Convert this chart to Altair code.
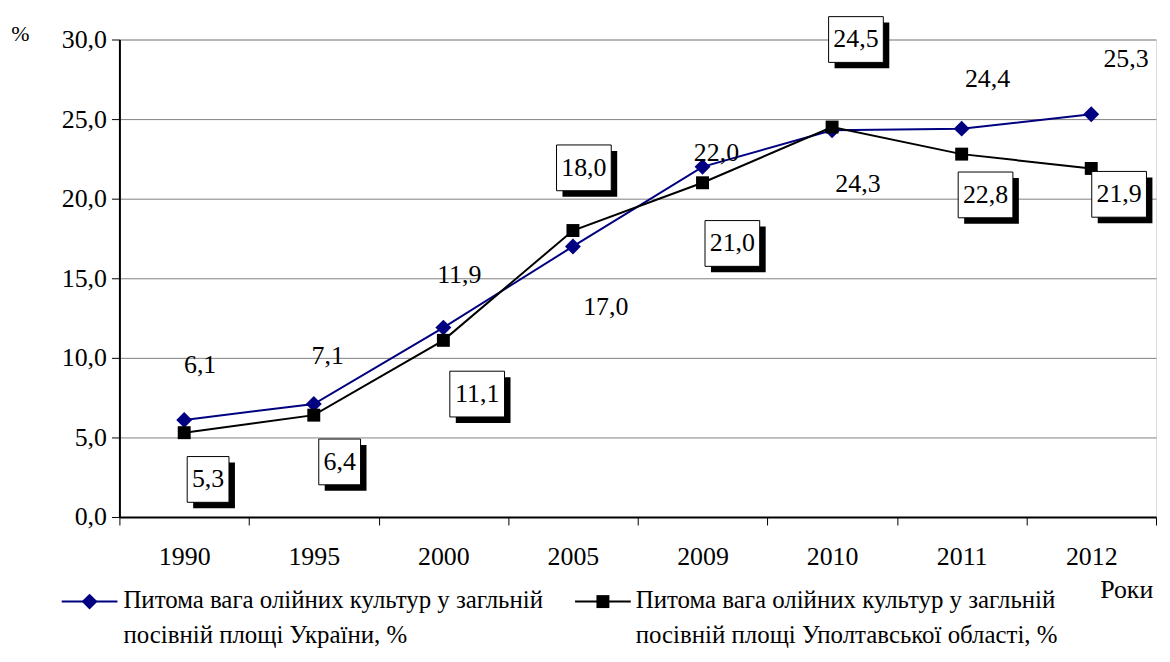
import altair as alt
import pandas as pd

years = ["1990", "1995", "2000", "2005", "2009", "2010", "2011", "2012"]
ukraine = [6.1, 7.1, 11.9, 17.0, 22.0, 24.3, 24.4, 25.3]
poltava = [5.3, 6.4, 11.1, 18.0, 21.0, 24.5, 22.8, 21.9]
# label offsets from their point, in pixels (right / down)
ukraine_label_dx = [16, 14, 16, 33, 14, 26, 26, 35]
ukraine_label_dy = [-55, -48, -53, 61, -14, 54, -50, -56]
poltava_label_dx = [24, 26, 34, 11, 30, 24, 24, 28]
poltava_label_dy = [47, 47, 54, -63, 61, -88, 41, 26]
legend_ukraine = "Питома вага олійних культур у загльній\nпосівній площі України, %"
legend_poltava = "Питома вага олійних культур у загльній\nпосівній площі Уполтавської області, %"

FONT = "Liberation Serif"
NAVY = "#000080"
W, H = 1042, 480
YMAX = 30.0
HALF_BAND = W / len(years) / 2
PX_PER_UNIT = H / YMAX

df = pd.DataFrame({
    "year": years,
    "ukraine": ukraine,
    "poltava": poltava,
    "udx": ukraine_label_dx,
    "udy": ukraine_label_dy,
    "pdx": poltava_label_dx,
    "pdy": poltava_label_dy,
})

x_enc = alt.X("year:N", sort=years, scale=alt.Scale(paddingInner=0, paddingOuter=0),
              axis=alt.Axis(title="Роки", labelAngle=0, tickBand="extent", tickSize=8,
                            tickColor="black", domainColor="black", domainWidth=2,
                            labelFont=FONT, labelFontSize=26, labelColor="black",
                            labelPadding=19, grid=False,
                            titleFont=FONT, titleFontSize=26, titleFontWeight="normal",
                            titleColor="black", titleX=1012, titleY=73,
                            titleAlign="center", titleBaseline="middle"))

y_axis = alt.Axis(title="%", values=[0, 5, 10, 15, 20, 25, 30],
                  labelExpr="replace(format(datum.value, '.1f'), '.', ',')",
                  tickSize=8, tickColor="black", domainColor="black", domainWidth=2,
                  labelFont=FONT, labelFontSize=26, labelColor="black", labelPadding=5,
                  grid=True, gridColor="#808080", gridWidth=1,
                  titleFont=FONT, titleFontSize=22, titleFontWeight="normal",
                  titleColor="black", titleAngle=0, titleX=-100, titleY=-6,
                  titleAlign="center", titleBaseline="middle")
y_scale = alt.Scale(domain=[0, YMAX], nice=False)

base = alt.Chart(df)
xs = alt.X("year:N", sort=years)

u_line = base.mark_line(color=NAVY, strokeWidth=2).encode(
    x=x_enc, y=alt.Y("ukraine:Q", scale=y_scale, axis=y_axis))
u_pts = base.mark_point(shape="diamond", filled=True, color=NAVY, size=256, opacity=1).encode(
    x=xs, y=alt.Y("ukraine:Q"))
p_line = base.mark_line(color="black", strokeWidth=2).encode(
    x=xs, y=alt.Y("poltava:Q"))
p_pts = base.mark_point(shape="square", filled=True, color="black", size=169, opacity=1).encode(
    x=xs, y=alt.Y("poltava:Q"))

u_text = base.transform_calculate(
    lab="replace(format(datum.ukraine, '.1f'), '.', ',')",
    lx=f"datum.udx + {HALF_BAND}",
    ly=f"datum.ukraine - datum.udy / {PX_PER_UNIT}",
).mark_text(font=FONT, fontSize=26, color="black", baseline="middle", align="center").encode(
    x=xs, y=alt.Y("ly:Q"),
    xOffset=alt.XOffset("lx:Q", scale=None),
    text="lab:N")

p_base = base.transform_calculate(
    lab="replace(format(datum.poltava, '.1f'), '.', ',')",
).transform_calculate(
    shp="length(datum.lab) <= 3 ? 'M-1,-1.0952L1,-1.0952L1,1.0952L-1,1.0952Z' : 'M-1,-0.8364L1,-0.8364L1,0.8364L-1,0.8364Z'",
    sz="length(datum.lab) <= 3 ? 1764 : 3025",
    lx=f"datum.pdx + {HALF_BAND}",
    ly=f"datum.poltava - datum.pdy / {PX_PER_UNIT}",
    sx=f"datum.pdx + 6 + {HALF_BAND}",
    sy=f"datum.poltava - (datum.pdy + 6) / {PX_PER_UNIT}",
)
p_shadow = p_base.mark_point(filled=True, fill="black", stroke="black", strokeWidth=0, opacity=1).encode(
    x=xs, y=alt.Y("sy:Q"),
    xOffset=alt.XOffset("sx:Q", scale=None),
    shape=alt.Shape("shp:N", scale=None), size=alt.Size("sz:Q", scale=None))
p_box = p_base.mark_point(filled=True, fill="white", stroke="black", strokeWidth=1, opacity=1,
                          strokeOpacity=1, fillOpacity=1).encode(
    x=xs, y=alt.Y("ly:Q"),
    xOffset=alt.XOffset("lx:Q", scale=None),
    shape=alt.Shape("shp:N", scale=None), size=alt.Size("sz:Q", scale=None))
p_text = p_base.mark_text(font=FONT, fontSize=26, color="black", baseline="middle", align="center").encode(
    x=xs, y=alt.Y("ly:Q"),
    xOffset=alt.XOffset("lx:Q", scale=None),
    text="lab:N")

# manual legend
one = alt.Data(values=[{"k": 0}])
lg_u_line = alt.Chart(one).mark_rule(color=NAVY, strokeWidth=2).encode(
    x=alt.value(-58), x2=alt.value(-2), y=alt.value(565))
lg_u_pt = alt.Chart(one).mark_point(shape="diamond", filled=True, color=NAVY, size=256, opacity=1).encode(
    x=alt.value(-30), y=alt.value(565))
lg_u_txt = alt.Chart(one).mark_text(font=FONT, fontSize=25, color="black", align="left",
                                    baseline="top", lineBreak="\n", lineHeight=36).encode(
    x=alt.value(4), y=alt.value(551), text=alt.value(legend_ukraine))
lg_p_line = alt.Chart(one).mark_rule(color="black", strokeWidth=2).encode(
    x=alt.value(458), x2=alt.value(514), y=alt.value(565))
lg_p_pt = alt.Chart(one).mark_point(shape="square", filled=True, color="black", size=169, opacity=1).encode(
    x=alt.value(486), y=alt.value(565))
lg_p_txt = alt.Chart(one).mark_text(font=FONT, fontSize=25, color="black", align="left",
                                    baseline="top", lineBreak="\n", lineHeight=36).encode(
    x=alt.value(519), y=alt.value(551), text=alt.value(legend_poltava))

chart = alt.layer(
    u_line, u_pts, p_line, p_pts, u_text, p_shadow, p_box, p_text,
    lg_u_line, lg_u_pt, lg_u_txt, lg_p_line, lg_p_pt, lg_p_txt,
).properties(
    width=W, height=H,
    padding={"left": 112, "top": 30, "right": 6, "bottom": 136},
    autosize=alt.AutoSizeParams(type="none"),
    background="white",
).configure_view(stroke="black", strokeWidth=2).configure(font=FONT)

chart.save("out.html", embed_options={"renderer": "svg", "actions": False})
